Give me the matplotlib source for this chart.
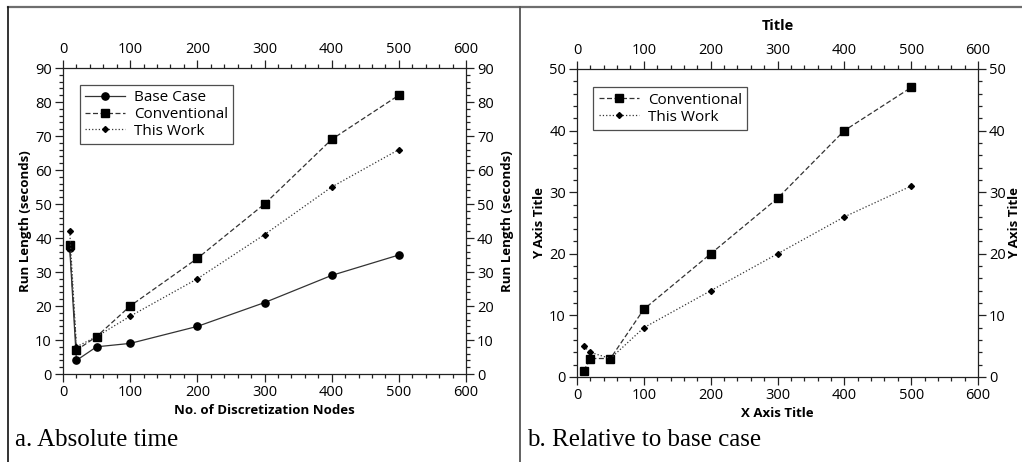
import matplotlib
matplotlib.use("Agg")
import matplotlib.pyplot as plt
from matplotlib.lines import Line2D
from matplotlib.ticker import MultipleLocator

plt.rcParams['font.family'] = ['Open Sans', 'DejaVu Sans']

# data
nodes = [10, 20, 50, 100, 200, 300, 400, 500]
base_case = [37, 4, 8, 9, 14, 21, 29, 35]
conventional = [38, 7, 11, 20, 34, 50, 69, 82]
this_work = [42, 8, 11, 17, 28, 41, 55, 66]

rel_conventional = [1, 3, 3, 11, 20, 29, 40, 47]
rel_this_work = [5, 4, 3, 8, 14, 20, 26, 31]

W, H = 1022, 462
fig = plt.figure(figsize=(W / 100, H / 100), dpi=100)
fig.patch.set_facecolor('white')


def px_axes(left, top, right, bottom):
    return fig.add_axes([left / W, 1 - bottom / H, (right - left) / W, (bottom - top) / H])


def style_axes(ax, ymax, ylabel, xlabel, right_x):
    ax.set_xlim(0, 600)
    ax.set_ylim(0, ymax)
    ax.xaxis.set_major_locator(MultipleLocator(100))
    ax.xaxis.set_minor_locator(MultipleLocator(20))
    ax.yaxis.set_major_locator(MultipleLocator(10))
    ax.yaxis.set_minor_locator(MultipleLocator(2))
    ax.tick_params(which='both', direction='out', top=True, right=True,
                   labeltop=True, labelright=True, labelsize=10.5, pad=2,
                   width=0.9, color='#222222')
    ax.tick_params(which='major', length=6)
    ax.tick_params(which='minor', length=3)
    for s in ax.spines.values():
        s.set_linewidth(0.9)
        s.set_color('#222222')
    ax.set_ylabel(ylabel, fontsize=9.5, fontweight='bold', labelpad=2)
    ax.set_xlabel(xlabel, fontsize=9.5, fontweight='bold', labelpad=3)
    ax.text(right_x, 0.5, ylabel, transform=ax.transAxes, rotation=90,
            ha='center', va='center', fontsize=9.5, fontweight='bold')


line_kw = dict(color='#333333', linewidth=0.9, markerfacecolor='black',
               markeredgecolor='black')
leg_kw = dict(loc='upper left', fontsize=11, frameon=True, fancybox=False,
              edgecolor='#222222', handlelength=2.6, handletextpad=0.6,
              borderpad=0.35, labelspacing=0.12)

# panel a
ax1 = px_axes(63, 68, 466, 374)
ax1.plot(nodes, base_case, '-', marker='o', markersize=5.2, label='Base Case', **line_kw)
ax1.plot(nodes, conventional, '--', marker='s', markersize=5.5, label='Conventional',
         dashes=(4, 2), **line_kw)
ax1.plot(nodes, this_work, ':', marker='D', markersize=3.0, label='This Work', **line_kw)
style_axes(ax1, 90, 'Run Length (seconds)', 'No. of Discretization Nodes', 1.102)
leg1 = ax1.legend(bbox_to_anchor=(0.022, 0.97), **leg_kw)
leg1.get_frame().set_linewidth(0.9)

# panel b
ax2 = px_axes(577, 69, 978, 377)
ax2.plot(nodes, rel_conventional, '--', marker='s', markersize=5.5, label='Conventional',
         dashes=(4, 2), **line_kw)
ax2.plot(nodes, rel_this_work, ':', marker='D', markersize=3.0, label='This Work', **line_kw)
style_axes(ax2, 50, 'Y Axis Title', 'X Axis Title', 1.09)
ax2.set_title('Title', fontsize=10.5, fontweight='bold', pad=28)
leg2 = ax2.legend(bbox_to_anchor=(0.022, 0.965), **leg_kw)
leg2.get_frame().set_linewidth(0.9)

# panel captions
fig.text(15 / W, 1 - 440 / H, 'a. Absolute time', family='Liberation Serif',
         fontsize=18, ha='left', va='center')
fig.text(527 / W, 1 - 440 / H, 'b. Relative to base case', family='Liberation Serif',
         fontsize=18, ha='left', va='center')

# outer frame
fig.add_artist(Line2D([8 / W, 1], [1 - 6.5 / H] * 2, transform=fig.transFigure,
                      color='#6e6e6e', linewidth=1.6))
fig.add_artist(Line2D([8 / W] * 2, [0, 1 - 6.5 / H], transform=fig.transFigure,
                      color='#111111', linewidth=1.2))
fig.add_artist(Line2D([520 / W] * 2, [0, 1 - 6.5 / H], transform=fig.transFigure,
                      color='#555555', linewidth=1.3))

fig.savefig('out.png', dpi=100)
